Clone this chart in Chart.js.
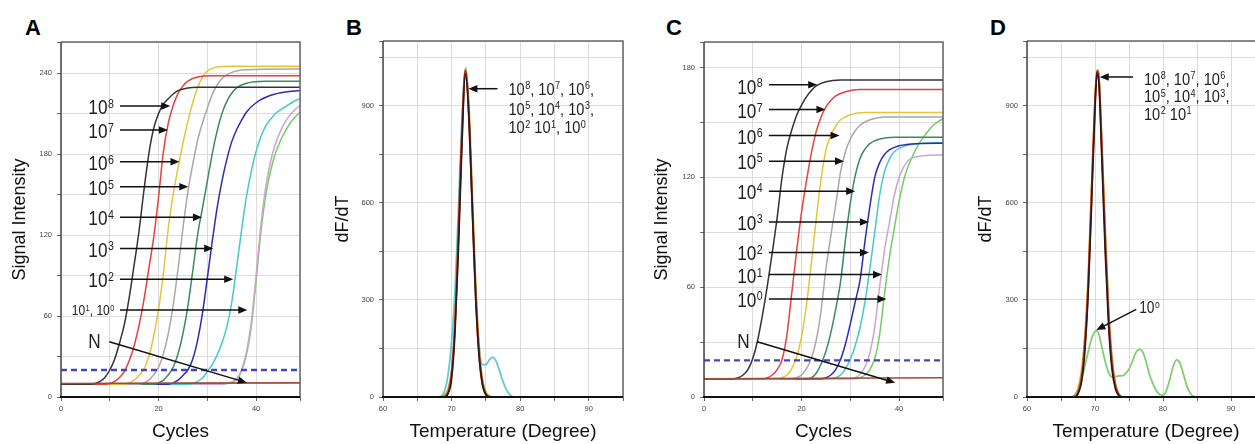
<!DOCTYPE html>
<html><head><meta charset="utf-8">
<script src="https://cdn.jsdelivr.net/npm/chart.js@4.4.0/dist/chart.umd.min.js"></script>
<style>
html,body{margin:0;padding:0;background:#fff;}
body{width:1255px;height:444px;overflow:hidden;position:relative;font-family:"Liberation Sans",Arial,sans-serif;}
canvas{position:absolute;top:0;}
.lab{position:absolute;font-weight:bold;font-size:22px;line-height:22px;color:#000;top:17px;}
</style></head><body>
<div class="lab" style="left:25px">A</div>
<div class="lab" style="left:346px">B</div>
<div class="lab" style="left:666px">C</div>
<div class="lab" style="left:990px">D</div>
<canvas id="cA" width="310" height="444" style="left:0px"></canvas>
<canvas id="cB" width="320" height="444" style="left:310px"></canvas>
<canvas id="cC" width="310" height="444" style="left:640px"></canvas>
<canvas id="cD" width="320" height="444" style="left:950px"></canvas>
<script>
// ---------- Panel A: amplification curves (cycle, signal) ----------
const A_1e8 = [[0,9.5],[6,9.5],[7,10],[8,11.5],[9,14.5],[10,20],[11,28],[12,40],[13,54],[14,74],[15,98],[16,123],[17,153],[18,180],[19,199],[20,210],[21,217],[22,221],[23,224.5],[24,227],[26,229],[28,229.5],[49,229.5]];
const A_1e7 = [[0,9.5],[9,9.5],[10,10],[11,11.5],[12,14.5],[13,19],[14,27],[15,38],[16,53],[17,72],[18,95],[19,118],[20,148],[21,182],[22,203],[23,216],[24,225],[25,230.5],[26,234],[28,237],[31,238],[49,238]];
const A_1e6 = [[0,9.5],[13,9.5],[14,10.5],[15,12.5],[16,16],[17,20.5],[18,30],[19,45],[20,65],[21,92],[22,125],[23,150],[24,170],[25,188],[26,204],[27,218],[28,229],[29,237],[30,241.5],[32,244.5],[35,245],[49,245]];
const A_1e5 = [[0,9.5],[16,9.5],[17,10.5],[18,12.5],[19,16.5],[20,22],[21,32],[22,47],[23,68],[24,95],[25,125],[26,152],[27,172],[28,190],[29,203],[30,214],[31,224],[32,231],[33,236],[35,240.5],[38,242.5],[49,243]];
const A_1e4 = [[0,9.5],[19,9.5],[20,10.5],[21,12.5],[22,16.5],[23,22],[24,32],[25,47],[26,67],[27,93],[28,120],[29,140],[30,160],[31,180],[32,197],[33,210],[34,219],[35,225],[36,229],[38,232.5],[42,234],[49,234]];
const A_1e3 = [[0,9.5],[22,9.5],[23,10.5],[24,12.5],[25,16],[26,20],[27,28],[28,42],[29,62],[30,88],[31,115],[32,140],[33,160],[34,176],[35,189],[36,198],[37,205],[38,211],[40,218],[43,223.5],[46,226],[49,227]];
const A_1e2 = [[0,9.5],[26,9.5],[27,10],[28,11.5],[29,14],[30,19],[31,24],[32,31],[33,40],[34,52],[35,70],[36,96],[37,123],[38,148],[39,167],[40,182],[41,193],[42,201],[43,206],[44,210],[46,215],[48,219.5],[49,221]];
const A_1e1 = [[0,9.5],[33,9.5],[34,10],[35,11],[36,13.5],[37,20],[38,33],[39,55],[40,90],[41,128],[42,156],[43,175],[44,188],[45,197],[46,204],[47,209],[48,213],[49,216]];
const A_1e0 = [[0,9.5],[33,9.5],[34,10],[35,11],[36,13],[37,19],[38,31],[39,52],[40,86],[41,123],[42,150],[43,168],[44,181],[45,190],[46,197],[47,203],[48,207.5],[49,211]];
const A_N   = [[0,10],[49,10.5]];
const A_thr = [[0,20],[49,20]];

// ---------- Panel C: amplification curves ----------
const C_1e8 = [[0,10],[6,10],[7,10.5],[8,12],[9,15],[10,21],[11,31],[12,45],[13,61],[14,79],[15,98],[16,120],[17,136],[18,146],[19,154],[20,159.5],[21,164],[22,167.5],[23,170],[25,172.3],[28,173.3],[49,173.3]];
const C_1e7 = [[0,10],[12,10],[13,10.5],[14,12],[15,15],[16,20.5],[17,34],[18,57],[19,80],[20,101],[21,118],[22,133],[23,145],[24,153],[25,158.5],[26,162],[27,164.5],[29,166.8],[32,168],[49,168]];
const C_1e6 = [[0,10],[15,10],[16,10.5],[17,12],[18,15.5],[19,22],[20,33],[21,50],[22,73],[23,97],[24,119],[25,135],[26,143],[27,148],[28,151.5],[30,154.3],[33,155.5],[49,155.5]];
const C_1e5 = [[0,10],[18,10],[19,10.5],[20,12],[21,15.5],[22,21],[23,31],[24,47],[25,70],[26,88],[27,105],[28,123],[29,134],[30,141],[31,145.5],[32,148.5],[34,151.5],[37,153],[49,153]];
const C_1e4 = [[0,10],[21,10],[22,10.5],[23,13],[24,18],[25,25],[26,35],[27,48],[28,63],[29,86],[30,106],[31,121],[32,130.5],[33,135.5],[34,138.5],[36,141],[39,142],[49,142]];
const C_1e3 = [[0,10],[24,10],[25,10.5],[26,12],[27,15],[28,20.5],[29,29],[30,40],[31,52],[32,64],[33,85],[34,104],[35,120],[36,128],[37,132.5],[38,135],[40,137.3],[44,138.5],[49,138.7]];
const C_1e2 = [[0,10],[26,10],[27,10.5],[28,12],[29,15.5],[30,20.5],[31,28],[32,38],[33,52],[34,70],[35,90],[36,110],[37,123],[38,130],[39,134],[41,137],[45,138.7],[49,139]];
const C_1e1 = [[0,10],[30,10],[31,10.5],[32,12.5],[33,16.5],[34,24],[35,38],[36,60],[37,80],[38,95],[39,110],[40,120],[41,126],[42,129.5],[44,131.5],[49,132.4]];
const C_1e0 = [[0,10],[31,10],[32,10.5],[33,12],[34,15],[35,21],[36,34],[37,56],[38,76],[39,92],[40,107],[41,119],[42,127],[43,133],[44,138],[45,142],[46,145.5],[47,148.5],[48,150.5],[49,152]];
const C_N   = [[0,10],[49,10.5]];
const C_thr = [[0,20],[49,20]];

// ---------- Panel B: melt curves (temperature, dF/dT) ----------
const B_gold  = [[60,0],[68.5,0],[69,6],[69.5,25],[70,80],[70.5,230],[71,490],[71.5,800],[72,1012],[72.5,910],[73,640],[73.5,360],[74,160],[74.5,55],[75,15],[75.5,3],[76,0],[95,0]];
const B_red   = [[60,0],[68.8,0],[69.3,5],[69.8,40],[70.3,150],[70.8,380],[71.3,700],[71.8,960],[72,1008],[72.3,960],[72.8,720],[73.3,420],[73.8,190],[74.3,65],[74.8,15],[75.3,2],[75.8,0],[95,0]];
const B_black = [[60,0],[69,0],[69.5,12],[70,55],[70.5,200],[71,460],[71.5,770],[72,1000],[72.5,880],[73,600],[73.5,320],[74,135],[74.5,40],[75,8],[75.5,0],[95,0]];
const B_cyan  = [[60,0],[68,0],[68.5,3],[69,20],[69.5,70],[70,170],[70.5,330],[71,580],[71.5,850],[72.1,1018],[72.5,880],[73,600],[73.5,330],[74,160],[74.5,100],[75,100],[75.5,115],[76,123],[76.5,110],[77,80],[77.5,48],[78,22],[78.5,7],[79,0],[95,0]];

// ---------- Panel D: melt curves ----------
const D_gold  = [[60,0],[66.5,0],[67,6],[67.5,25],[68,75],[68.5,185],[69,370],[69.5,650],[70,920],[70.3,1010],[70.6,985],[71,790],[71.5,520],[72,275],[72.5,120],[73,42],[73.5,10],[74,0],[95,0]];
const D_red   = [[60,0],[67,0],[67.5,12],[68,55],[68.5,160],[69,345],[69.5,630],[70,910],[70.3,1008],[70.6,975],[71,770],[71.5,490],[72,250],[72.5,105],[73,35],[73.5,8],[74,0],[95,0]];
const D_black = [[60,0],[67,0],[67.5,10],[68,45],[68.5,140],[69,320],[69.5,600],[70,890],[70.3,1002],[70.6,960],[71,740],[71.5,450],[72,220],[72.5,85],[73,25],[73.5,4],[74,0],[95,0]];
const D_green = [[60,0],[67,0],[67.5,15],[68,50],[68.5,95],[69,140],[69.5,180],[70,203],[70.3,205],[70.6,192],[71,155],[71.5,110],[72,75],[72.5,62],[73,63],[73.5,65],[74,65],[74.5,72],[75,86],[75.5,110],[76,137],[76.6,147],[77,140],[77.5,110],[78,70],[78.5,42],[79,20],[79.5,8],[80,6],[80.5,20],[81,55],[81.5,95],[82,115],[82.5,105],[83,70],[83.5,35],[84,12],[84.5,2],[85,0],[95,0]];

// ---------- annotation labels (data coordinates) ----------
const A_notes = [
  {t:'10^8', x:5.6, y:209.6, a:[12.1,215.6,22.4,215.6]},
  {t:'10^7', x:5.6, y:191.6, a:[12.1,197.8,21.9,197.8]},
  {t:'10^6', x:5.6, y:168.1, a:[12.1,174.3,24.3,174.3]},
  {t:'10^5', x:5.6, y:149.6, a:[12.1,155.8,26.1,155.8]},
  {t:'10^4', x:5.6, y:127.4, a:[12.1,133.1,28.9,133.1]},
  {t:'10^3', x:5.6, y:103.9, a:[12.1,110.1,31.2,110.1]},
  {t:'10^2', x:5.6, y:81.3,  a:[12.1,87.2,35.3,87.2]},
  {t:'10^1, 10^0', x:2.2, y:60.7, small:true, a:[12.1,64.4,38.2,64.4]},
  {t:'N', x:5.6, y:36.1, a:[9.9,41,38.1,10.6]}
];
const C_notes = [
  {t:'10^8', x:6.8, y:165.7, a:[13.3,170.6,23.2,170.6]},
  {t:'10^7', x:6.8, y:152.3, a:[13.3,157.1,24.9,157.1]},
  {t:'10^6', x:6.8, y:138.4, a:[13.3,142.9,27.8,142.9]},
  {t:'10^5', x:6.8, y:124.7, a:[13.3,128.9,28.7,128.9]},
  {t:'10^4', x:6.8, y:108.4, a:[13.3,112.5,31.0,112.5]},
  {t:'10^3', x:6.8, y:91.5,  a:[13.3,95.6,33.8,95.6]},
  {t:'10^2', x:6.8, y:74.7,  a:[13.3,78.9,33.8,78.9]},
  {t:'10^1', x:6.8, y:62.3,  a:[13.3,66.9,36.5,66.9]},
  {t:'10^0', x:6.8, y:49.3,  a:[13.3,53.5,37.4,53.5]},
  {t:'N', x:6.8, y:26.6, a:[10.9,30.2,39.2,7.8]}
];
const B_notes = [
  {t:'10^8, 10^7, 10^6,', x:78.3, y:934, mid:true, a:[76.7,952.6,72.45,952.6]},
  {t:'10^5, 10^4, 10^3,', x:78.3, y:872, mid:true},
  {t:'10^2 10^1, 10^0',   x:78.3, y:815, mid:true}
];
const D_notes = [
  {t:'10^8, 10^7, 10^6,', x:77.2, y:965, mid:true, a:[75.6,988.8,70.7,988.8]},
  {t:'10^5, 10^4, 10^3,', x:77.2, y:910, mid:true},
  {t:'10^2 10^1',         x:77.2, y:857, mid:true},
  {t:'10^0', x:76.5, y:259, d0:true, a:[76.06,271,70.2,207]}
];

const FONT = '"Liberation Sans", Arial, Helvetica, sans-serif';

function ds(pts, color, w, extra){
  return Object.assign({data: pts.map(p=>({x:p[0], y:p[1]})), borderColor: color, backgroundColor: color,
    borderWidth: w||1.5, pointRadius:0, fill:false, cubicInterpolationMode:'monotone'}, extra||{});
}

function drawRich(ctx, str, x, y, size, sx){
  ctx.save(); ctx.translate(x, y); ctx.scale(sx, 1);
  ctx.fillStyle = '#222'; ctx.textBaseline = 'alphabetic'; ctx.textAlign = 'left';
  let cx = 0;
  for (const p of str.split(/(\^\d)/)) {
    if (!p) continue;
    if (p[0] === '^') {
      ctx.font = (size*0.62) + 'px ' + FONT;
      ctx.fillText(p[1], cx + 0.5, -size*0.32);
      cx += ctx.measureText(p[1]).width + 0.5;
    } else {
      ctx.font = size + 'px ' + FONT;
      ctx.fillText(p, cx, 0);
      cx += ctx.measureText(p).width;
    }
  }
  ctx.restore();
}
function drawArrow(ctx, x0, y0, x1, y1){
  const ang = Math.atan2(y1-y0, x1-x0), L = 9, H = 3.8;
  ctx.save(); ctx.strokeStyle = '#111'; ctx.fillStyle = '#111'; ctx.lineWidth = 1.5;
  ctx.beginPath(); ctx.moveTo(x0, y0); ctx.lineTo(x1 - L*0.8*Math.cos(ang), y1 - L*0.8*Math.sin(ang)); ctx.stroke();
  ctx.beginPath(); ctx.moveTo(x1, y1);
  ctx.lineTo(x1 - L*Math.cos(ang) + H*Math.sin(ang), y1 - L*Math.sin(ang) - H*Math.cos(ang));
  ctx.lineTo(x1 - L*Math.cos(ang) - H*Math.sin(ang), y1 - L*Math.sin(ang) + H*Math.cos(ang));
  ctx.closePath(); ctx.fill(); ctx.restore();
}
function notesPlugin(notes){
  return { id:'notes', afterDraw(chart){
    const ctx = chart.ctx, X = chart.scales.x, Y = chart.scales.y;
    for (const n of notes) {
      if (n.a) drawArrow(ctx, X.getPixelForValue(n.a[0]), Y.getPixelForValue(n.a[1]), X.getPixelForValue(n.a[2]), Y.getPixelForValue(n.a[3]));
      const size = n.small ? 14 : (n.mid ? 17 : (n.d0 ? 16 : 20));
      drawRich(ctx, n.t, X.getPixelForValue(n.x), Y.getPixelForValue(n.y), size, 0.86);
    }
  }};
}
const framePlugin = { id:'frame', afterDatasetsDraw(chart){
  const c = chart.ctx, a = chart.chartArea;
  c.save();
  c.strokeStyle = '#666'; c.lineWidth = 1.5;
  c.beginPath(); c.moveTo(a.left, a.top); c.lineTo(a.right, a.top); c.lineTo(a.right, a.bottom); c.stroke();
  c.strokeStyle = '#444';
  c.beginPath(); c.moveTo(a.left, a.top); c.lineTo(a.left, a.bottom); c.stroke();
  c.strokeStyle = '#111'; c.lineWidth = 2;
  c.beginPath(); c.moveTo(a.left-1, a.bottom); c.lineTo(a.right, a.bottom); c.stroke();
  c.restore();
}};

function build(id, o){
  return new Chart(document.getElementById(id), {
    type:'line',
    data:{datasets:o.datasets},
    options:{
      responsive:false, animation:false, devicePixelRatio:1,
      layout:{padding:{left:0, top:o.top, right:o.right, bottom:0}},
      plugins:{legend:{display:false}, tooltip:{enabled:false}},
      scales:{
        x:{type:'linear', min:o.xmin, max:o.xmax, afterFit:s=>{s.height=47;},
          grid:{color:'#dcdcdc', lineWidth:1, drawTicks:true, tickLength:4, tickColor:'#666'},
          border:{display:false},
          ticks:{stepSize:o.xstep, autoSkip:false, maxRotation:0, padding:3, color:'#444', font:{size:7.5, family:FONT},
            callback:v=> (Math.abs(v % o.xlab) < 1e-6 ? String(v) : '')},
          title:{display:true, text:o.xtitle, color:'#111', font:{size:19, family:FONT}, padding:{top:0, bottom:0.6}}},
        y:{type:'linear', min:0, max:o.ymax, afterFit:s=>{s.width=o.yw;},
          grid:{color:'#dcdcdc', lineWidth:1, drawTicks:true, tickLength:4, tickColor:'#666'},
          border:{display:false},
          ticks:{stepSize:o.ystep, autoSkip:false, padding:5, color:'#444', font:{size:7.5, family:FONT},
            callback:v=> (Math.abs(v % o.ylab) < 1e-6 ? String(v) : '')},
          title:{display:true, text:o.ytitle, color:'#111', font:{size:18, family:FONT}, padding:{top:o.ytp, bottom:0}}}
      }
    },
    plugins:[framePlugin, notesPlugin(o.notes)]
  });
}

const COL = {black:'#333333', red:'#e8413c', yellow:'#e8c33a', gray:'#a8a8a8', dkgreen:'#3a8c5c',
  blue:'#2b2bb8', cyan:'#45c8cc', pink:'#cfa3cc', green:'#74cc64', N:'#9e4b3b', thr:'#4343c4'};
const thrStyle = {borderDash:[6,4], borderWidth:2.4, cubicInterpolationMode:'default', tension:0};

build('cA', {
  datasets:[ds(A_thr, COL.thr, 2.4, thrStyle), ds(A_N, COL.N, 1.6),
    ds(A_1e8, COL.black), ds(A_1e7, COL.red), ds(A_1e6, COL.yellow), ds(A_1e5, COL.gray),
    ds(A_1e4, COL.dkgreen), ds(A_1e3, COL.blue), ds(A_1e2, COL.cyan), ds(A_1e1, COL.pink), ds(A_1e0, COL.green)],
  top:42, right:10, yw:61, ytp:9.2, xmin:0, xmax:49, xstep:10, xlab:20, ymax:263, ystep:30, ylab:60,
  xtitle:'Cycles', ytitle:'Signal Intensity', notes:A_notes
});
build('cB', {
  datasets:[ds(B_black, '#2a1a1a', 1.7), ds(B_red, '#b8302c', 1.9), ds(B_gold, '#d49a2e', 1.9), ds(B_cyan, '#62cad0', 1.8)],
  top:41, right:7, yw:73, ytp:22.2, xmin:60, xmax:95, xstep:5, xlab:10, ymax:1100, ystep:150, ylab:300,
  xtitle:'Temperature (Degree)', ytitle:'dF/dT', notes:B_notes
});
build('cC', {
  datasets:[ds(C_thr, COL.thr, 2.4, thrStyle), ds(C_N, COL.N, 1.6),
    ds(C_1e8, COL.black), ds(C_1e7, COL.red), ds(C_1e6, COL.yellow), ds(C_1e5, COL.gray),
    ds(C_1e4, COL.dkgreen), ds(C_1e3, COL.blue), ds(C_1e2, COL.cyan), ds(C_1e1, COL.pink), ds(C_1e0, COL.green)],
  top:42, right:7, yw:64, ytp:11.2, xmin:0, xmax:49, xstep:10, xlab:20, ymax:194, ystep:30, ylab:60,
  xtitle:'Cycles', ytitle:'Signal Intensity', notes:C_notes
});
build('cD', {
  datasets:[ds(D_black, '#2a1a1a', 1.7), ds(D_red, '#c0352e', 1.9), ds(D_gold, '#d49a2e', 1.9), ds(D_green, '#7fcf70', 1.8)],
  top:41, right:5, yw:77, ytp:25.2, xmin:60, xmax:95, xstep:5, xlab:10, ymax:1100, ystep:150, ylab:300,
  xtitle:'Temperature (Degree)', ytitle:'dF/dT', notes:D_notes
});
</script>
</body></html>
